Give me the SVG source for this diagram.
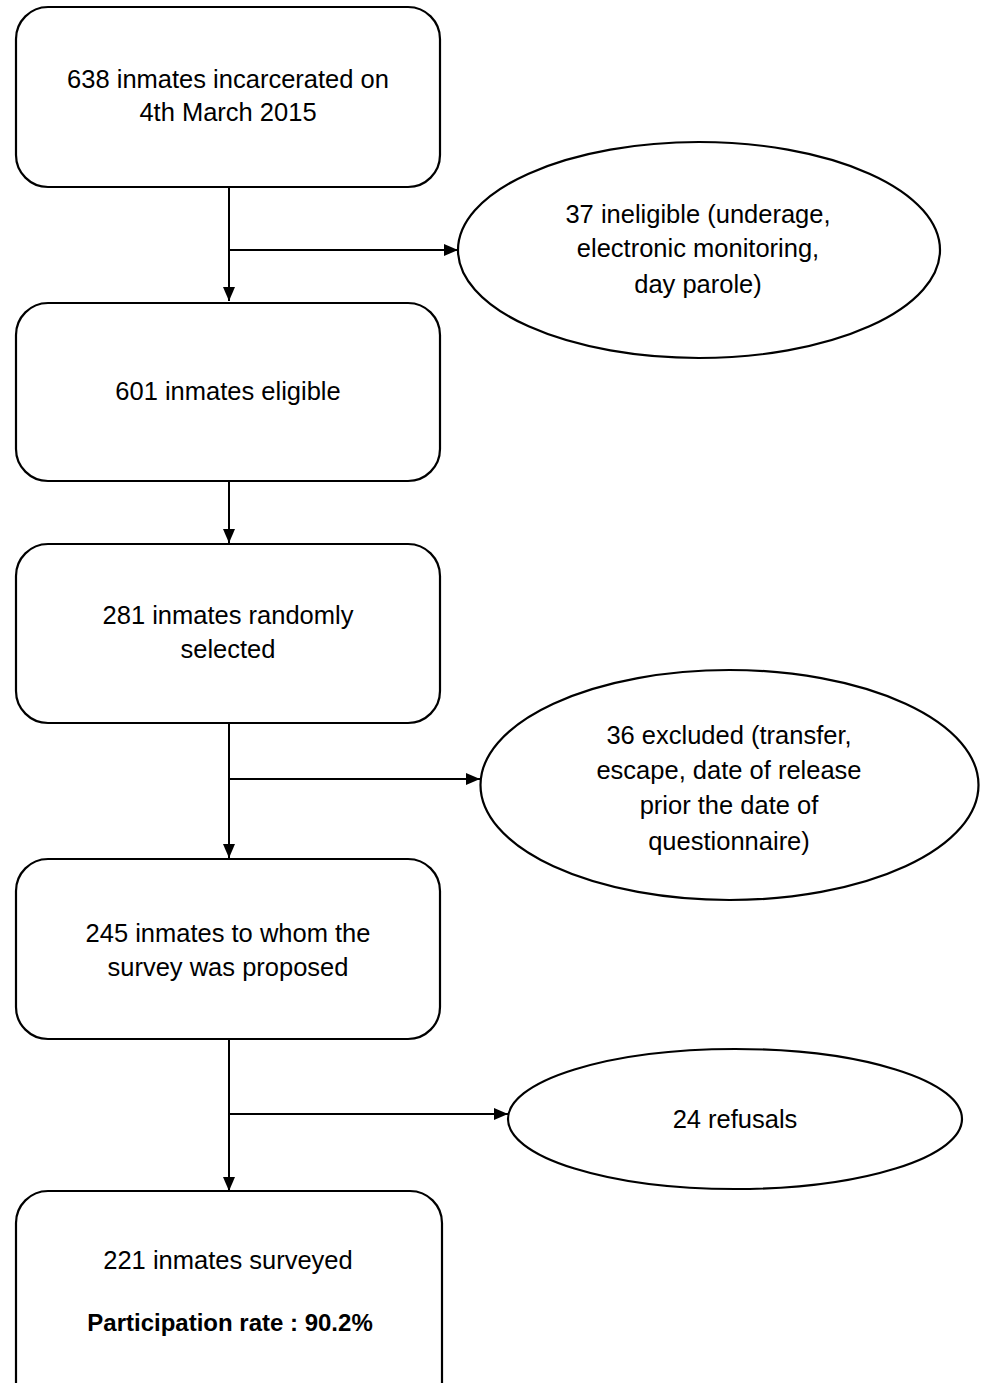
<svg xmlns="http://www.w3.org/2000/svg" width="985" height="1383" viewBox="0 0 985 1383">
<style>
.box{fill:#fff;stroke:#000;stroke-width:2.2}
.ell{fill:#fff;stroke:#000;stroke-width:2.2}
.t{font-family:"Liberation Sans",Arial,sans-serif;font-size:25.5px;fill:#000;text-anchor:middle}
.b{font-weight:bold;font-size:24px}
.c{fill:none;stroke:#000;stroke-width:2}
</style>
<defs>
<marker id="ah" viewBox="0 0 14 12" refX="14" refY="6" markerWidth="14" markerHeight="12" markerUnits="userSpaceOnUse" orient="auto">
<path d="M0,0 L14,6 L0,12 z" fill="#000"/>
</marker>
</defs>
<rect width="985" height="1383" fill="#fff"/>
<g id="connectors">
<line class="c" x1="229" y1="187" x2="229" y2="301" marker-end="url(#ah)"/>
<line class="c" x1="229" y1="250" x2="458" y2="250" marker-end="url(#ah)"/>
<line class="c" x1="229" y1="481" x2="229" y2="543" marker-end="url(#ah)"/>
<line class="c" x1="229" y1="723" x2="229" y2="858" marker-end="url(#ah)"/>
<line class="c" x1="229" y1="779" x2="480" y2="779" marker-end="url(#ah)"/>
<line class="c" x1="229" y1="1039" x2="229" y2="1191" marker-end="url(#ah)"/>
<line class="c" x1="229" y1="1114" x2="508" y2="1114" marker-end="url(#ah)"/>
</g>
<g id="n1">
<rect class="box" x="16" y="7" width="424" height="180" rx="32"/>
<text class="t" x="228" y="88">638 inmates incarcerated on</text>
<text class="t" x="228" y="121">4th March 2015</text>
</g>
<g id="e1">
<ellipse class="ell" cx="699" cy="250" rx="241" ry="108"/>
<text class="t" x="698" y="223">37 ineligible (underage,</text>
<text class="t" x="698" y="257">electronic monitoring,</text>
<text class="t" x="698" y="293">day parole)</text>
</g>
<g id="n2">
<rect class="box" x="16" y="303" width="424" height="178" rx="32"/>
<text class="t" x="228" y="400">601 inmates eligible</text>
</g>
<g id="n3">
<rect class="box" x="16" y="544" width="424" height="179" rx="32"/>
<text class="t" x="228" y="624">281 inmates randomly</text>
<text class="t" x="228" y="658">selected</text>
</g>
<g id="e2">
<ellipse class="ell" cx="729.5" cy="785" rx="249" ry="115"/>
<text class="t" x="729" y="744">36 excluded (transfer,</text>
<text class="t" x="729" y="779">escape, date of release</text>
<text class="t" x="729" y="814">prior the date of</text>
<text class="t" x="729" y="850">questionnaire)</text>
</g>
<g id="n4">
<rect class="box" x="16" y="859" width="424" height="180" rx="32"/>
<text class="t" x="228" y="942">245 inmates to whom the</text>
<text class="t" x="228" y="976">survey was proposed</text>
</g>
<g id="e3">
<ellipse class="ell" cx="735" cy="1119" rx="227" ry="70"/>
<text class="t" x="735" y="1128">24 refusals</text>
</g>
<g id="n5">
<rect class="box" x="16" y="1191" width="426" height="230" rx="32"/>
<text class="t" x="228" y="1269">221 inmates surveyed</text>
<text class="t b" x="230" y="1331">Participation rate : 90.2%</text>
</g>
</svg>
